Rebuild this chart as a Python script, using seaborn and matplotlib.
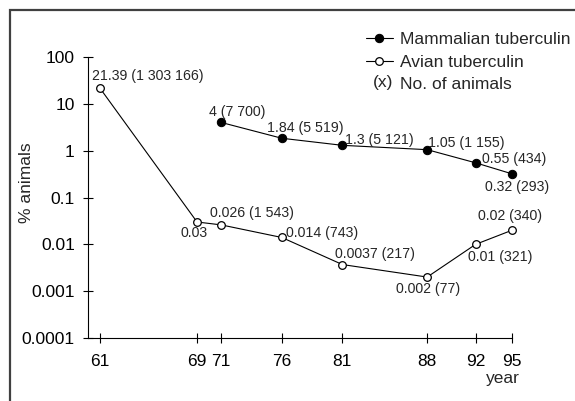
import matplotlib
matplotlib.use("Agg")
import matplotlib.pyplot as plt
import matplotlib.patches as mpatches
import matplotlib.text as mtext
from matplotlib.legend_handler import HandlerBase
from matplotlib.ticker import FixedLocator, FixedFormatter, NullLocator
import seaborn as sns
import pandas as pd

# data
years = [61, 69, 71, 76, 81, 88, 92, 95]
avian = [21.39, 0.03, 0.026, 0.014, 0.0037, 0.002, 0.01, 0.02]
avian_labels = ["21.39 (1 303 166)", "0.03", "0.026 (1 543)", "0.014 (743)",
                "0.0037 (217)", "0.002 (77)", "0.01 (321)", "0.02 (340)"]
mamm_years = [71, 76, 81, 88, 92, 95]
mammalian = [4, 1.84, 1.3, 1.05, 0.55, 0.32]
mamm_labels = ["4 (7 700)", "1.84 (5 519)", "1.3 (5 121)", "1.05 (1 155)",
               "0.55 (434)", "0.32 (293)"]
ytick_values = [0.0001, 0.001, 0.01, 0.1, 1, 10, 100]
ytick_labels = ["0.0001", "0.001", "0.01", "0.1", "1", "10", "100"]

# label offsets in pixels (dx, dy, ha)
avian_offsets = [(-8, 12, "left"), (-3, -11, "center"), (-11, 12, "left"), (4, 4, "left"),
                 (-7, 11, "left"), (1, -12, "center"), (-8, -13, "left"), (-2, 14, "center")]
mamm_offsets = [(-12, 10, "left"), (-15, 10, "left"), (3, 5, "left"), (1, 7, "left"),
                (6, 4, "left"), (5, -13, "center")]

sns.set_style("ticks")
plt.rcParams['font.family'] = ['Liberation Sans', 'DejaVu Sans']

df_av = pd.DataFrame({"year": years, "pct": avian})
df_ma = pd.DataFrame({"year": mamm_years, "pct": mammalian})

fig = plt.figure(figsize=(5.75, 4.01), dpi=100)
ax = fig.add_axes([88/575, 1-338/401, 424/575, 281/401])

sns.lineplot(data=df_ma, x="year", y="pct", ax=ax, color="black", lw=0.8,
             marker="o", ms=6, mfc="black", mec="black", clip_on=False,
             label="Mammalian tuberculin")
sns.lineplot(data=df_av, x="year", y="pct", ax=ax, color="black", lw=0.8,
             marker="o", ms=5.5, mfc="white", mec="black", mew=0.9, clip_on=False,
             label="Avian tuberculin")

ax.set_yscale("log")
ax.set_xlim(60, 95)
ax.set_ylim(1e-4, 100)
ax.xaxis.set_major_locator(FixedLocator(years))
ax.set_xticklabels([str(y) for y in years])
ax.yaxis.set_major_locator(FixedLocator(ytick_values))
ax.yaxis.set_major_formatter(FixedFormatter(ytick_labels))
ax.yaxis.set_minor_locator(NullLocator())
ax.xaxis.set_minor_locator(NullLocator())
ax.tick_params(direction="inout", length=7, width=0.8, labelsize=12.5, colors="black")
ax.tick_params(axis="x", pad=8)
ax.tick_params(axis="y", pad=6)
for s in ["top", "right"]:
    ax.spines[s].set_visible(False)
for s in ["left", "bottom"]:
    ax.spines[s].set_linewidth(0.8)
    ax.spines[s].set_color("black")
ax.set_xlabel("")
ax.set_ylabel("")

for x, y, lab, (dx, dy, ha) in zip(years, avian, avian_labels, avian_offsets):
    ax.annotate(lab, (x, y), xytext=(dx, dy), textcoords="offset pixels",
                ha=ha, va="center", fontsize=10.2)
for x, y, lab, (dx, dy, ha) in zip(mamm_years, mammalian, mamm_labels, mamm_offsets):
    ax.annotate(lab, (x, y), xytext=(dx, dy), textcoords="offset pixels",
                ha=ha, va="center", fontsize=10.2)

ax.annotate("year", (95, 0), xycoords=("data", "axes fraction"), xytext=(-9, -40),
            textcoords="offset pixels", ha="center", va="center", fontsize=12.5)
ax.text(-0.144, 0.552, "% animals", transform=ax.transAxes, rotation=90,
        ha="center", va="center", fontsize=12.5)


class AnimalsKey:
    pass


class TextHandler(HandlerBase):
    def create_artists(self, legend, orig_handle, xdescent, ydescent,
                       width, height, fontsize, trans):
        t = mtext.Text(x=5 - xdescent, y=height / 2 - ydescent, text="(x)",
                       fontsize=fontsize, ha="left", va="center", transform=trans)
        return [t]


handles, labels = ax.get_legend_handles_labels()
handles.append(AnimalsKey())
labels.append("No. of animals")
ax.legend(handles, labels, handler_map={AnimalsKey: TextHandler()},
          loc="upper left", bbox_to_anchor=(366/575, 1-32/401),
          bbox_transform=fig.transFigure, frameon=False, fontsize=12.5,
          handlelength=1.55, handletextpad=0.4, borderpad=0, borderaxespad=0,
          labelspacing=0.42)

frame = mpatches.Rectangle((10/575, -0.1), 1.2, (401-10)/401 + 0.1,
                           transform=fig.transFigure, fill=False,
                           edgecolor="#404040", lw=1.6)
fig.patches.append(frame)

fig.savefig("out.png", dpi=100)
